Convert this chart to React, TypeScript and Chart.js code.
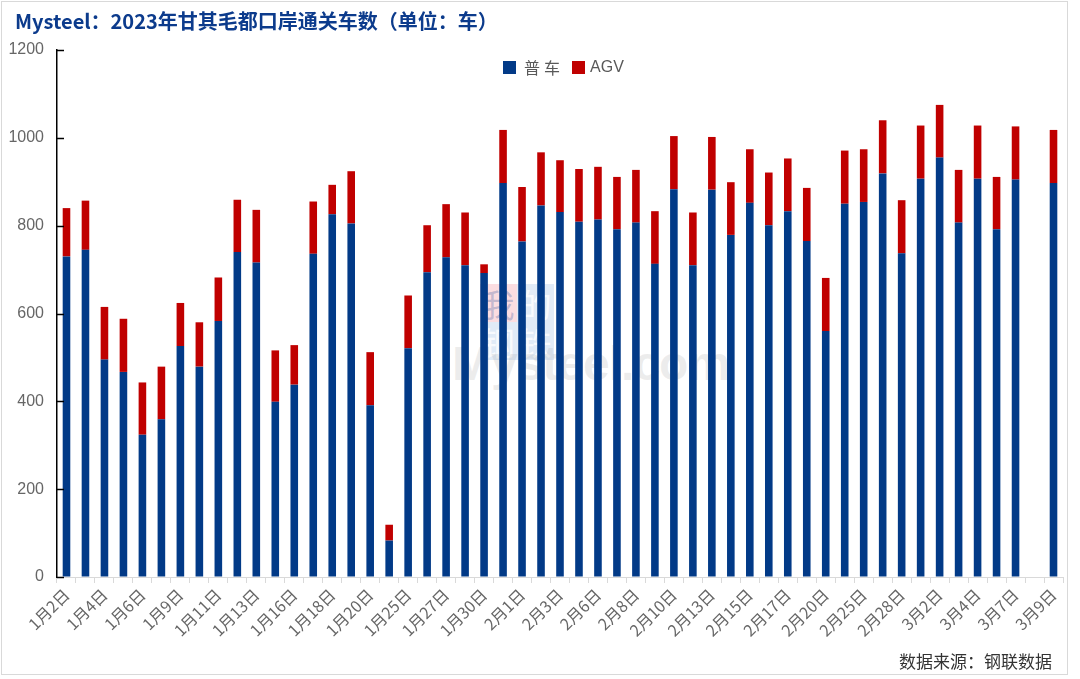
import React, { useEffect, useRef } from "react";
import { Chart, registerables } from "chart.js";

Chart.register(...registerables);

const categories: string[] = [
  "1月2日", "1月3日", "1月4日", "1月5日", "1月6日", "1月7日", "1月9日", "1月10日",
  "1月11日", "1月12日", "1月13日", "1月14日", "1月16日", "1月17日", "1月18日", "1月19日",
  "1月20日", "1月21日", "1月25日", "1月26日", "1月27日", "1月28日", "1月30日", "1月31日",
  "2月1日", "2月2日", "2月3日", "2月4日", "2月6日", "2月7日", "2月8日", "2月9日",
  "2月10日", "2月11日", "2月13日", "2月14日", "2月15日", "2月16日", "2月17日", "2月18日",
  "2月20日", "2月24日", "2月25日", "2月27日", "2月28日", "3月1日", "3月2日", "3月3日",
  "3月4日", "3月6日", "3月7日", "3月8日", "3月9日",
];

const normalTrucks: (number | null)[] = [
  730, 745, 495, 467, 324, 359, 526, 479, 583, 740, 716, 399, 438, 736, 826, 805,
  391, 83, 521, 694, 728, 710, 692, 897, 764, 846, 831, 809, 814, 792, 807, 713,
  883, 710, 882, 779, 852, 801, 833, 765, 560, 850, 854, 919, 737, 907, 955, 807,
  907, 792, 905, null, 897,
];

const agvTrucks: (number | null)[] = [
  110, 112, 120, 121, 119, 120, 98, 101, 99, 119, 120, 117, 90, 119, 67, 119,
  121, 36, 120, 107, 121, 120, 20, 121, 124, 121, 118, 120, 120, 119, 120, 120,
  121, 120, 120, 120, 122, 120, 120, 121, 121, 121, 120, 121, 121, 121, 120, 120,
  121, 119, 121, null, 121,
];

const yTicks: number[] = [0, 200, 400, 600, 800, 1000, 1200];

const BLUE = "#023a87";
const RED = "#c00000";

const inwardTicks = {
  id: "inwardTicks",
  afterDraw(chart: any) {
    const y = chart.scales.y;
    const ctx = chart.ctx;
    ctx.save();
    ctx.strokeStyle = "#000";
    ctx.lineWidth = 1.5;
    yTicks.forEach((v) => {
      const py = Math.round(y.getPixelForValue(v)) + 0.5;
      ctx.beginPath();
      ctx.moveTo(y.right, py);
      ctx.lineTo(y.right + 7, py);
      ctx.stroke();
    });
    ctx.restore();
  },
};

export default function App() {
  const ref = useRef<HTMLCanvasElement | null>(null);

  useEffect(() => {
    document.body.style.margin = "0";
    if (!ref.current) return;
    const chart = new Chart(ref.current, {
      type: "bar",
      data: {
        labels: categories,
        datasets: [
          {
            label: "普车",
            data: normalTrucks,
            backgroundColor: BLUE,
            categoryPercentage: 0.8,
            barPercentage: 0.5,
          },
          {
            label: "AGV",
            data: agvTrucks,
            backgroundColor: RED,
            categoryPercentage: 0.8,
            barPercentage: 0.5,
          },
        ],
      },
      options: {
        animation: false,
        responsive: false,
        maintainAspectRatio: false,
        devicePixelRatio: 1,
        layout: { padding: { left: 0, right: 17, top: 50, bottom: 0 } },
        plugins: {
          legend: { display: false },
          tooltip: { enabled: false },
          title: { display: false },
        },
        scales: {
          x: {
            stacked: true,
            grid: {
              offset: true,
              drawOnChartArea: false,
              drawTicks: true,
              tickLength: 6,
              color: "#d9d9d9",
            },
            border: { display: true, color: "#d9d9d9", width: 1 },
            ticks: {
              autoSkip: false,
              minRotation: 45,
              maxRotation: 45,
              padding: 2,
              color: "#666666",
              font: { family: "'Noto Sans CJK SC', 'Liberation Sans', sans-serif", size: 16 },
              callback: (_v: any, i: number) => (i % 2 === 0 ? categories[i] : ""),
            },
            afterFit: (s: any) => {
              s.height = 102;
            },
          },
          y: {
            stacked: true,
            min: 0,
            max: 1200,
            grid: { display: true, drawOnChartArea: false, drawTicks: false },
            border: { display: true, color: "#000", width: 1.5 },
            ticks: {
              stepSize: 200,
              padding: 13,
              color: "#666666",
              font: { family: "'Liberation Sans', sans-serif", size: 16 },
              callback: (v: any) => String(v),
            },
            afterFit: (s: any) => {
              s.width = 57;
            },
          },
        },
      },
      plugins: [inwardTicks],
    });
    return () => chart.destroy();
  }, []);

  const sq = (left: number, top: number, bg: string, ch: string, fg: string) => (
    <div
      style={{
        position: "absolute",
        left,
        top,
        width: 37,
        height: 38,
        background: bg,
        color: fg,
        fontFamily: "'Noto Sans CJK SC', sans-serif",
        fontSize: 32,
        lineHeight: "38px",
        textAlign: "center",
      }}
    >
      {ch}
    </div>
  );

  return (
    <div style={{ position: "relative", width: 1080, height: 679, background: "#fff", overflow: "hidden" }}>
      <div
        style={{
          position: "absolute",
          left: 1,
          top: 1,
          width: 1065,
          height: 672,
          border: "1px solid #d9d9d9",
        }}
      />
      {/* watermark */}
      {sq(480, 284, "rgba(245,170,180,0.4)", "我", "rgba(60,90,160,0.3)")}
      {sq(517, 284, "rgba(180,205,235,0.4)", "的", "rgba(255,255,255,0.8)")}
      {sq(480, 322, "rgba(180,205,235,0.4)", "钢", "rgba(255,255,255,0.8)")}
      {sq(517, 322, "rgba(180,205,235,0.4)", "铁", "rgba(255,255,255,0.8)")}
      <div
        style={{
          position: "absolute",
          left: 452,
          top: 336,
          fontFamily: "'Liberation Sans', sans-serif",
          fontSize: 48,
          fontWeight: "bold",
          color: "rgba(170,170,170,0.22)",
          letterSpacing: -1,
        }}
      >
        Mysteel.com
      </div>
      <canvas
        ref={ref}
        width={1080}
        height={679}
        style={{ position: "absolute", left: 0, top: 0, width: 1080, height: 679 }}
      />
      <div
        style={{
          position: "absolute",
          left: 15,
          top: 6,
          fontFamily: "'Noto Sans CJK SC', sans-serif",
          fontWeight: "bold",
          fontSize: 20,
          color: "#0c3b8c",
          whiteSpace: "nowrap",
        }}
      >
        Mysteel：2023年甘其毛都口岸通关车数（单位：车）
      </div>
      <div
        style={{
          position: "absolute",
          left: 503,
          top: 55,
          display: "flex",
          alignItems: "center",
          fontFamily: "'Noto Sans CJK SC', 'Liberation Sans', sans-serif",
          fontSize: 16,
          color: "#595959",
          whiteSpace: "nowrap",
        }}
      >
        <span style={{ display: "inline-block", width: 13, height: 13, background: BLUE, marginRight: 8 }} />
        <span style={{ letterSpacing: 4, marginRight: 8 }}>普车</span>
        <span style={{ display: "inline-block", width: 13, height: 13, background: RED, marginRight: 5 }} />
        <span style={{ fontFamily: "'Liberation Sans', sans-serif" }}>AGV</span>
      </div>
      <div
        style={{
          position: "absolute",
          left: 899,
          top: 648,
          fontFamily: "'Noto Sans CJK SC', sans-serif",
          fontSize: 17,
          color: "#333",
          whiteSpace: "nowrap",
        }}
      >
        数据来源：钢联数据
      </div>
    </div>
  );
}
